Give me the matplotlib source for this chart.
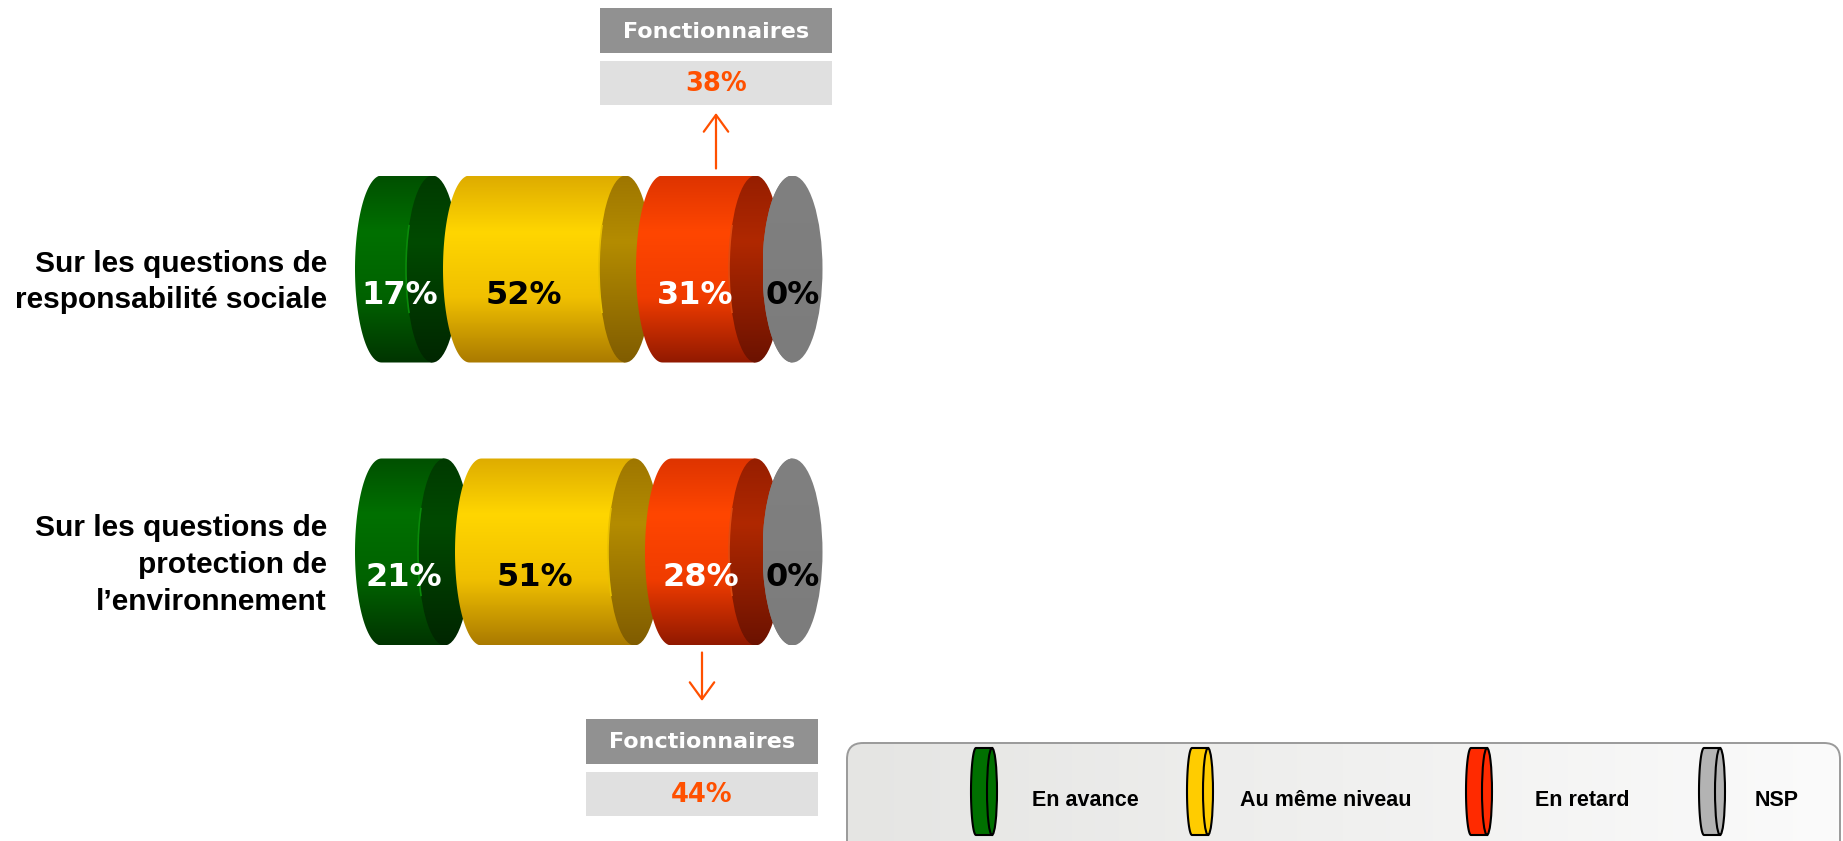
import numpy as np
import matplotlib
matplotlib.use("Agg")
import matplotlib.pyplot as plt
from matplotlib.patches import Ellipse, PathPatch, FancyBboxPatch, Rectangle, Arc
from matplotlib.path import Path

# ---------------- data ----------------
categories = ["Sur les questions de\nresponsabilité sociale",
              "Sur les questions de\nprotection de\nl\u2019environnement"]
series = ["En avance", "Au même niveau", "En retard", "NSP"]
values_social = [17, 52, 31, 0]
values_env = [21, 51, 28, 0]
callout_title = "Fonctionnaires"
callout_values = [38, 44]

# ---------------- style / layout ----------------
W, H, DPI = 1843, 841, 100
PX_PER_PCT = 3.0
ORIGIN_PX = 381.5
GAP = 37 / PX_PER_PCT          # gap between cylinders (pct units)
CAP_A = 26.5 / PX_PER_PCT      # horizontal semi-axis of caps (pct units)
CAP_B = 93.5                   # vertical semi-axis (px)
ROW_CY = [269, 552]
ZERO_A = 30 / PX_PER_PCT       # zero-length cylinder is shown as a slightly wider disc

body_profiles = {
    0: [(0, (0, 80, 0)), (0.3, (0, 112, 0)), (0.65, (0, 98, 0)), (1, (0, 52, 0))],
    1: [(0, (222, 172, 0)), (0.3, (255, 214, 0)), (0.65, (240, 192, 0)), (1, (170, 122, 0))],
    2: [(0, (222, 52, 0)), (0.3, (255, 70, 0)), (0.65, (240, 60, 0)), (1, (145, 25, 0))],
    3: [(0, (128, 128, 128)), (1, (124, 124, 124))],
}
cap_profiles = {
    0: [(0, (0, 58, 0)), (0.35, (0, 74, 0)), (1, (0, 38, 0))],
    1: [(0, (158, 118, 0)), (0.35, (180, 140, 0)), (1, (128, 92, 0))],
    2: [(0, (150, 30, 0)), (0.35, (176, 40, 0)), (1, (108, 18, 0))],
    3: [(0, (128, 128, 128)), (1, (124, 124, 124))],
}
rim_colors = {0: "#0a8a0a", 1: "#e8c000", 2: "#e04a10", 3: "#8a8a8a"}
label_colors = ["white", "black", "white", "black"]
legend_colors = ["#007000", "#ffcc00", "#ff2a00", "#b3b3b3"]

ORANGE = "#ff5000"
HEADER_BG = "#919191"
VALUE_BG = "#e0e0e0"

NUM_FONT = ["DejaVu Sans"]
TXT_FONT = ["Liberation Sans", "DejaVu Sans"]


def gradient_img(profile, n=256):
    pos = np.array([p for p, _ in profile])
    cols = np.array([c for _, c in profile], dtype=float) / 255.0
    t = np.linspace(0, 1, n)
    arr = np.stack([np.interp(t, pos, cols[:, k]) for k in range(3)], axis=1)
    return arr[:, None, :]


fig = plt.figure(figsize=(W / DPI, H / DPI), dpi=DPI, facecolor="white")

# annotation axes in pixel coordinates
ax_ann = fig.add_axes([0, 0, 1, 1])
ax_ann.set_xlim(0, W)
ax_ann.set_ylim(H, 0)
ax_ann.axis("off")
ax_ann.patch.set_alpha(0)

# bar axes: x in percent units, y in pixels
ax = fig.add_axes([0, 0, 1, 1])
ax.set_xlim(-ORIGIN_PX / PX_PER_PCT, (W - ORIGIN_PX) / PX_PER_PCT)
ax.set_ylim(H, 0)
ax.axis("off")
ax.patch.set_alpha(0)


def body_path(s, e, cy, a, b):
    t = np.linspace(np.pi / 2, 3 * np.pi / 2, 60)
    xs = s + a * np.cos(t)
    ys = cy - b * np.sin(t)
    verts = list(zip(xs, ys)) + [(e, cy + b), (e, cy - b), (s, cy - b)]
    codes = [Path.MOVETO] + [Path.LINETO] * (len(verts) - 2) + [Path.CLOSEPOLY]
    return Path(verts, codes)


def draw_cylinder(axis, s, e, cy, k, z):
    a, b = (CAP_A if e > s else ZERO_A), CAP_B
    bp = PathPatch(body_path(s, e, cy, a, b), facecolor="none", edgecolor="none", zorder=z)
    axis.add_patch(bp)
    im = axis.imshow(gradient_img(body_profiles[k]), extent=(s - a, e + a, cy + b, cy - b),
                     origin="upper", aspect="auto", interpolation="bilinear", zorder=z)
    im.set_clip_path(bp)
    cap = Ellipse((e, cy), 2 * a, 2 * b, facecolor="none", edgecolor="none", zorder=z + 0.1)
    axis.add_patch(cap)
    im2 = axis.imshow(gradient_img(cap_profiles[k]), extent=(e - a, e + a, cy + b, cy - b),
                      origin="upper", aspect="auto", interpolation="bilinear", zorder=z + 0.1)
    im2.set_clip_path(cap)
    if e > s:
        axis.add_patch(Arc((e, cy), 2 * a, 2 * b, theta1=100, theta2=260,
                           color=rim_colors[k], lw=1.2, zorder=z + 0.2))


rows = [values_social, values_env]
segments = []
for r, vals in enumerate(rows):
    cy = ROW_CY[r]
    start = 0.0
    segs = []
    for k, v in enumerate(vals):
        s, e = start, start + v
        draw_cylinder(ax, s, e, cy, k, 2 + k)
        segs.append((s, e))
        lx = s + 0.35 * v if v > 0 else s
        ax.text(lx, cy + 26, f"{v}%", ha="center", va="center", fontsize=23,
                fontweight="bold", color=label_colors[k], family=NUM_FONT, zorder=10)
        start = e + GAP
    segments.append(segs)

# category labels
for r, lab in enumerate(categories):
    ax_ann.text(327, ROW_CY[r] + 13, lab, ha="right", va="center", multialignment="right",
                fontsize=21.5, fontweight="bold", family=TXT_FONT, linespacing=1.4, color="black")

# callouts
BOX_W = 232 / PX_PER_PCT
callout_dx = [7 / PX_PER_PCT, -11.5 / PX_PER_PCT]
callout_geo = [
    # (header_top, header_bot, value_top, value_bot, arrow_tail, arrow_head)
    (8, 53, 61, 105, ROW_CY[0] - CAP_B - 7, 113),
    (719, 764, 772, 816, ROW_CY[1] + CAP_B + 7, 701),
]
for r, val in enumerate(callout_values):
    s, e = segments[r][2]
    cx = (s + e) / 2 + callout_dx[r]
    ht, hb, vt, vb, at, ah = callout_geo[r]
    ax.add_patch(Rectangle((cx - BOX_W / 2, ht), BOX_W, hb - ht, facecolor=HEADER_BG,
                           edgecolor="none", zorder=5))
    ax.add_patch(Rectangle((cx - BOX_W / 2, vt), BOX_W, vb - vt, facecolor=VALUE_BG,
                           edgecolor="none", zorder=5))
    ax.text(cx, (ht + hb) / 2 + 1, callout_title, ha="center", va="center", fontsize=16,
            fontweight="bold", color="white", family=NUM_FONT, zorder=6)
    ax.text(cx, (vt + vb) / 2 + 1, f"{val}%", ha="center", va="center", fontsize=18.5,
            fontweight="bold", color=ORANGE, family=NUM_FONT, zorder=6)
    ax.annotate("", xy=(cx, ah), xytext=(cx, at),
                arrowprops=dict(arrowstyle="->,head_length=0.55,head_width=0.4",
                                color=ORANGE, lw=1.6, mutation_scale=22,
                                shrinkA=0, shrinkB=0), zorder=6)

# legend box
lb = FancyBboxPatch((847, 743), 1840 - 847, 140, boxstyle="round,pad=0,rounding_size=16",
                    facecolor="none", edgecolor="#9a9a9a", lw=1.4, zorder=1)
ax_ann.add_patch(lb)
grad = np.linspace(0, 1, 256)
c0 = np.array([229, 229, 227]) / 255.0
c1 = np.array([251, 251, 251]) / 255.0
limg = (c0[None, :] * (1 - grad[:, None]) + c1[None, :] * grad[:, None])[None, :, :]
im = ax_ann.imshow(limg, extent=(847, 1840, 883, 743), origin="upper", aspect="auto", zorder=0.5)
im.set_clip_path(lb)

leg_disc_left = [976, 1192, 1471, 1704]
leg_disc_len = 16
leg_text_x = [1032, 1240, 1535, 1755]
LEG_CY, LEG_B, LEG_A = 791.5, 43.5, 5
for i, name in enumerate(series):
    x1 = leg_disc_left[i]
    x2 = x1 + leg_disc_len
    p = PathPatch(body_path(x1, x2, LEG_CY, LEG_A, LEG_B), facecolor=legend_colors[i],
                  edgecolor="black", lw=1.5, zorder=3)
    ax_ann.add_patch(p)
    ax_ann.add_patch(Ellipse((x2, LEG_CY), 2 * LEG_A, 2 * LEG_B, facecolor=legend_colors[i],
                             edgecolor="black", lw=1.5, zorder=3.1))
    ax_ann.text(leg_text_x[i], 800, name, ha="left", va="center", fontsize=15.5,
                fontweight="bold", family=TXT_FONT, color="black", zorder=4)

fig.savefig("out.png", dpi=DPI, facecolor="white")
